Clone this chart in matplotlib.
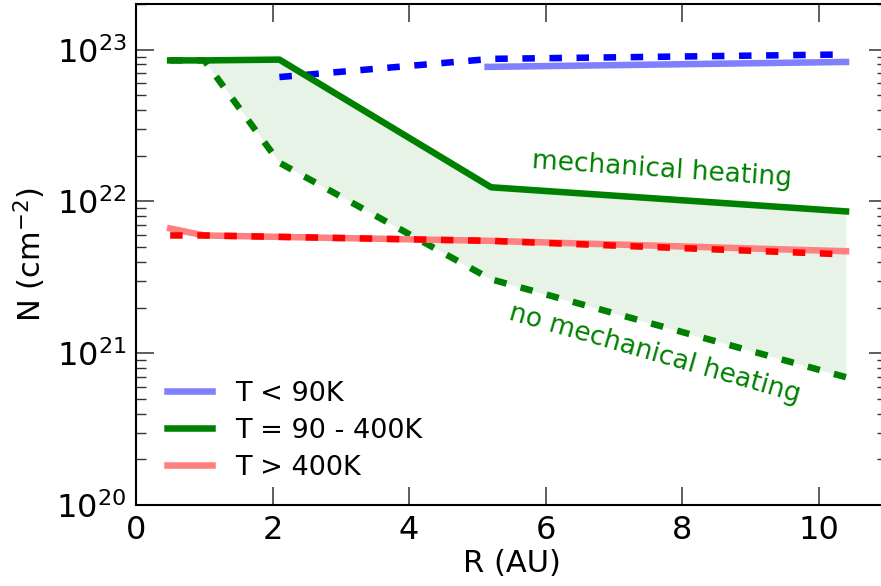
import matplotlib
matplotlib.use("Agg")
import matplotlib.pyplot as plt
from matplotlib.ticker import LogLocator, NullFormatter

plt.rcParams["lines.scale_dashes"] = False
plt.rcParams["font.family"] = "DejaVu Sans"

# column densities (cm^-2) vs radius (AU)
r_warm = [0.5, 1.0, 2.1, 5.2, 10.4]
warm_mech = [8.5e22, 8.5e22, 8.6e22, 1.24e22, 8.6e21]
warm_nomech = [8.5e22, 8.5e22, 1.8e22, 3.07e21, 6.95e20]

r_cold_dash = [2.1, 5.2, 10.4]
cold_dash = [6.6e22, 8.7e22, 9.3e22]
r_cold = [5.15, 10.4]
cold = [7.7e22, 8.3e22]

r_hot = [0.5, 1.0, 5.2, 10.4]
hot = [6.64e21, 5.97e21, 5.5e21, 4.7e21]
hot_dash = [5.97e21, 5.97e21, 5.5e21, 4.48e21]

DASH = (0, (9, 10.5))
LW = 4.7

fig = plt.figure(figsize=(8.81, 5.86), dpi=100)
# right spine sits just past the image edge, as in the original crop
ax = fig.add_axes([0.1544, 0.1382, 0.8524, 0.855])

ax.fill_between(r_warm, warm_nomech, warm_mech, color="green", alpha=0.09, lw=0)
ax.plot(r_cold, cold, color="#8080ff", lw=LW, label="T < 90K")
ax.plot(r_cold_dash, cold_dash, color="blue", lw=LW, ls=DASH)
ax.plot(r_warm, warm_mech, color="green", lw=LW, label="T = 90 - 400K")
ax.plot(r_warm, warm_nomech, color="green", lw=LW, ls=DASH)
ax.plot(r_hot, hot, color="#ff8080", lw=LW, label="T > 400K")
ax.plot(r_hot, hot_dash, color="red", lw=LW, ls=DASH)

ax.set_yscale("log")
ax.set_xlim(0, 11)
ax.set_ylim(1e20, 2e23)
ax.set_xticks([0, 2, 4, 6, 8, 10])
ax.yaxis.set_major_locator(LogLocator(base=10, numticks=10))
ax.yaxis.set_minor_locator(LogLocator(base=10, subs=range(2, 10), numticks=10))
ax.yaxis.set_minor_formatter(NullFormatter())
ax.tick_params(which="major", direction="in", length=13, width=1.1, labelsize=23,
               right=True, top=True, pad=7, color="#333333")
ax.tick_params(which="minor", direction="in", length=7, width=1, right=True, top=True,
               color="#333333")
ax.set_xlabel("R (AU)", fontsize=22, labelpad=2)
ax.set_ylabel("N (cm$^{-2}$)", fontsize=22, labelpad=6)
for s in ax.spines.values():
    s.set_linewidth(1.5)

ax.text(7.7, 1.62e22, "mechanical heating", color="green", fontsize=19,
        rotation=-3.9, ha="center", va="center")
ax.text(7.6, 9.8e20, "no mechanical heating", color="green", fontsize=19,
        rotation=-16, ha="center", va="center")

ax.legend(loc="lower left", frameon=False, fontsize=19.5, handlelength=1.65,
          handletextpad=0.85, labelspacing=0.4, bbox_to_anchor=(0.009, 0.0))

fig.savefig("out.png", dpi=100)
